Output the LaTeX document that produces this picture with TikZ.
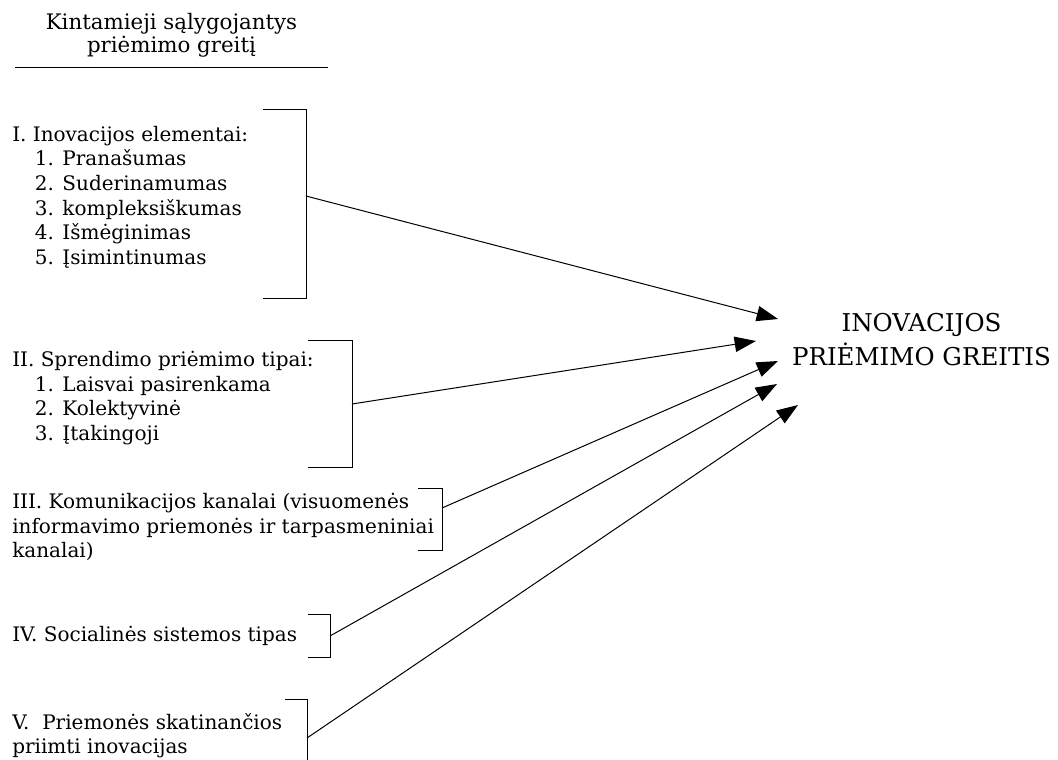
\documentclass[tikz,border=0pt]{standalone}
\usepackage{fontspec}
\setmainfont{DejaVu Serif}
\usetikzlibrary{arrows.meta}
\newcommand{\itm}{\hspace*{17pt}}

\begin{document}
\begin{tikzpicture}[
  x=0.75pt, y=-0.75pt,
  >={Triangle[length=16pt,width=11.5pt]},
  lbl/.style={anchor=north west,inner sep=0pt,align=left,font=\fontsize{15}{18.4}\selectfont},
  head/.style={anchor=north,inner sep=0pt,align=center,font=\fontsize{16}{17.5}\selectfont},
  ttl/.style={anchor=north,inner sep=0pt,align=center,font=\fontsize{18.4}{25.5}\selectfont},
  brk/.style={line width=0.75pt},
  arr/.style={->,line width=0.75pt}
]
  \useasboundingbox (0,0) rectangle (1058,760);
  % heading
  \node[head] (hdr) at (171.5,13) {Kintamieji sąlygojantys\\priėmimo greitį};
  \draw[brk] (15,67) -- (328,67);
  % the five groups of variables
  \node[lbl] (gI) at (12,126) {I. Inovacijos elementai:\\
    \itm 1. Pranašumas\\ \itm 2. Suderinamumas\\ \itm 3. kompleksiškumas\\
    \itm 4. Išmėginimas\\ \itm 5. Įsimintinumas};
  \node[lbl] (gII) at (12,351) {II. Sprendimo priėmimo tipai:\\
    \itm 1. Laisvai pasirenkama\\ \itm 2. Kolektyvinė\\ \itm 3. Įtakingoji};
  \node[lbl] (gIII) at (12,493) {III. Komunikacijos kanalai (visuomenės\\
    informavimo priemonės ir tarpasmeniniai\\ kanalai)};
  \node[lbl] (gIV) at (12,626) {IV. Socialinės sistemos tipas};
  \node[lbl] (gV) at (12,713) {V.\ \ Priemonės skatinančios\\ priimti inovacijas};
  % brackets
  \draw[brk] (263,109) -| (306,298) -- (263,298);
  \draw[brk] (308,340) -| (352,467) -- (308,467);
  \draw[brk] (418,488) -| (442,550) -- (418,550);
  \draw[brk] (308,614) -| (330,657) -- (308,657);
  \draw[brk] (285,699) -| (307,762);
  \coordinate (sI) at (306,196);
  \coordinate (sII) at (352,404);
  \coordinate (sIII) at (442,508);
  \coordinate (sIV) at (330,636);
  \coordinate (sV) at (307,738);
  % outcome
  \node[ttl] (goal) at (921.5,313) {INOVACIJOS\\PRIĖMIMO GREITIS};
  \coordinate (tI) at (778,319);
  \coordinate (tII) at (756,341);
  \coordinate (tIII) at (778,361);
  \coordinate (tIV) at (777,384);
  \coordinate (tV) at (798,405);
  \draw[arr] (sI) -- (tI);
  \draw[arr] (sII) -- (tII);
  \draw[arr] (sIII) -- (tIII);
  \draw[arr] (sIV) -- (tIV);
  \draw[arr] (sV) -- (tV);
\end{tikzpicture}
\end{document}
